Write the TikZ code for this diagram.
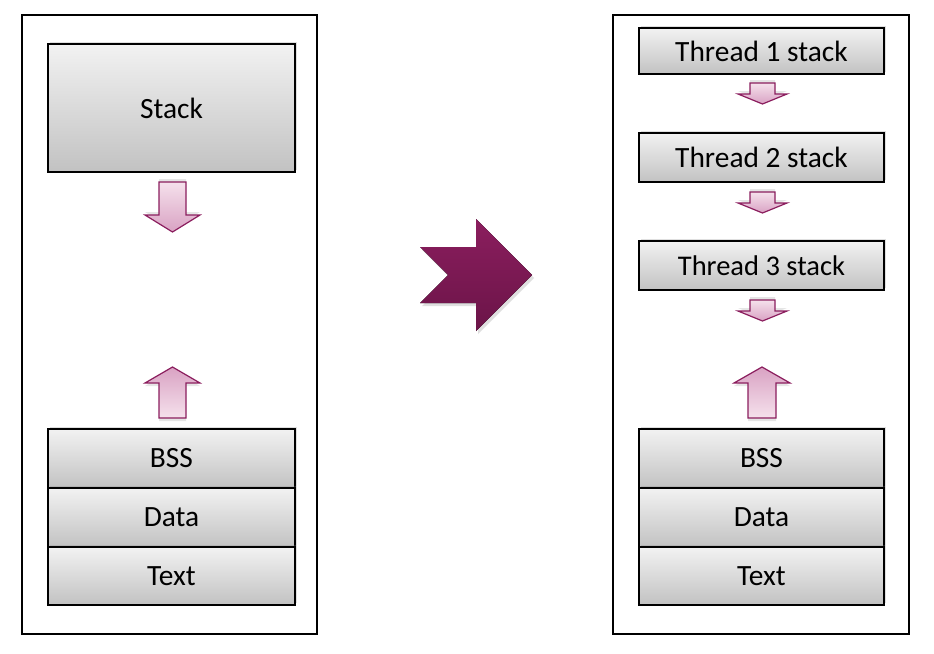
\documentclass[tikz,border=0pt]{standalone}
\usepackage{fontspec}
\setmainfont{Carlito}
\usetikzlibrary{shadows}
\definecolor{boxTop}{HTML}{F2F2F2}
\definecolor{boxBot}{HTML}{C2C2C2}
\definecolor{pinkL}{HTML}{F5E1EC}
\definecolor{pinkD}{HTML}{D9A2C3}
\definecolor{plum}{HTML}{8B1E5E}
\definecolor{plumD}{HTML}{6B1448}
\tikzset{
  memframe/.style={draw=black, line width=1.2pt, fill=white},
  membox/.style={draw=black, line width=1.4pt, top color=boxTop, bottom color=boxBot,
     drop shadow={shadow xshift=1.5pt, shadow yshift=2pt, opacity=0.25},
     font=\fontsize{29.4}{32}\selectfont, inner sep=0pt},
  downarr/.style={draw=plum, line width=1.2pt, top color=pinkL, bottom color=pinkD,
     drop shadow={shadow xshift=0pt, shadow yshift=3pt, opacity=0.2}},
  uparr/.style={draw=plum, line width=1.2pt, top color=pinkD, bottom color=pinkL,
     drop shadow={shadow xshift=0pt, shadow yshift=-3pt, opacity=0.2}},
  bigarr/.style={top color=plum, bottom color=plumD, draw=none,
     drop shadow={shadow xshift=2pt, shadow yshift=-3pt, opacity=0.25}},
}
\begin{document}
\begin{tikzpicture}[x=1pt,y=-1pt]
\useasboundingbox (0,0) rectangle (934,653);
% frames
\draw[memframe] (22,15) rectangle (317,634);
\draw[memframe] (613,15) rectangle (909,634);

% left column
\node[membox, minimum width=247pt, minimum height=128pt] (stack) at (171.5,108) {Stack};
\node[membox, minimum width=247pt, minimum height=59pt] (bssL) at (171.5,458.5) {BSS};
\node[membox, minimum width=247pt, minimum height=59pt] (dataL) at (171.5,517.5) {Data};
\node[membox, minimum width=247pt, minimum height=58pt] (textL) at (171.5,576) {Text};

% left arrows
\draw[downarr] (159,182) -- (186,182) -- (186,215) -- (200,215) -- (172.5,232) -- (145,215) -- (159,215) -- cycle;
\draw[uparr] (172.5,367) -- (200,383) -- (186,383) -- (186,418) -- (159,418) -- (159,383) -- (145,383) -- cycle;

% big arrow
\fill[bigarr] (420,247) -- (476,247) -- (476,219) -- (532,275) -- (476,331) -- (476,303) -- (420,303) -- (448,275) -- cycle;

% right column
\node[membox, minimum width=245pt, minimum height=46pt] (t1) at (761.5,51) {Thread 1 stack};
\node[membox, minimum width=245pt, minimum height=49pt] (t2) at (761.5,157.5) {Thread 2 stack};
\node[membox, minimum width=245pt, minimum height=49pt] (t3) at (761.5,265.5) {\fontsize{28.5}{32}\selectfont Thread 3 stack};
\node[membox, minimum width=245pt, minimum height=59pt] (bssR) at (761.5,458.5) {BSS};
\node[membox, minimum width=245pt, minimum height=59pt] (dataR) at (761.5,517.5) {Data};
\node[membox, minimum width=245pt, minimum height=58pt] (textR) at (761.5,576) {Text};

% small down arrows
\foreach \y in {83,192,300}{
  \draw[downarr] (750,\y) -- (775,\y) -- (775,\y+11) -- (787,\y+11) -- (762.5,\y+21) -- (738,\y+11) -- (750,\y+11) -- cycle;
}
% right up arrow
\draw[uparr] (762,367) -- (790,383) -- (776,383) -- (776,418) -- (748,418) -- (748,383) -- (734,383) -- cycle;
\end{tikzpicture}
\end{document}
